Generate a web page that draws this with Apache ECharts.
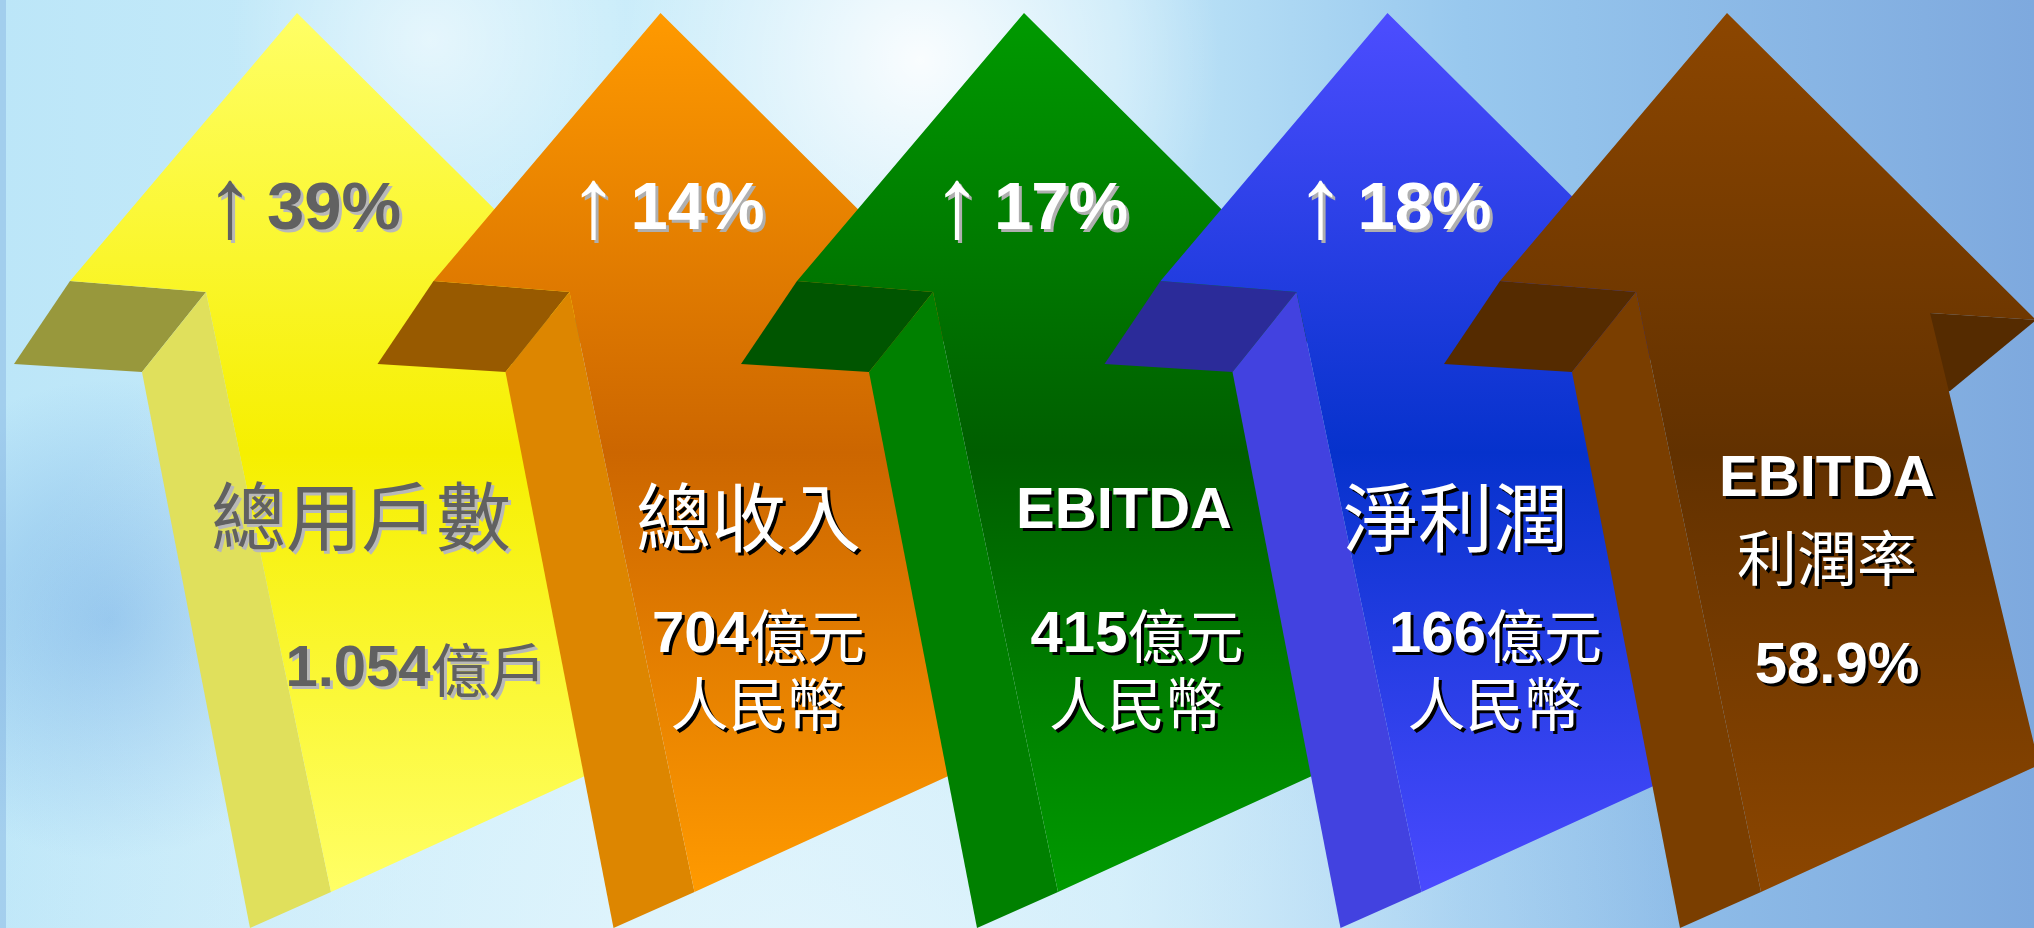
<!DOCTYPE html>
<html>
<head>
<meta charset="utf-8">
<script src="https://cdn.jsdelivr.net/npm/echarts@6/dist/echarts.min.js"></script>
<style>
html,body{margin:0;padding:0;background:#c8eaf8;}
#chart{width:2034px;height:928px;}
</style>
</head>
<body>
<div id="chart"></div>
<script>
// ---------------- data ----------------
const categories = ['總用戶數', '總收入', 'EBITDA', '淨利潤', 'EBITDA利潤率'];
const labelText = ['總用戶數', '總收入', 'EBITDA', '淨利潤', 'EBITDA\n利潤率'];
const growthPct = [39, 14, 17, 18, null];
const amounts = [1.054, 704, 415, 166, 58.9];
const amountUnit = ['億戶', '億元', '億元', '億元', '%'];
const amountNote = ['', '人民幣', '人民幣', '人民幣', ''];

// ---------------- styles / layout ----------------
const LATIN = '"Liberation Sans", Arial, sans-serif';
const CJK = '"Noto Sans CJK TC", "Noto Sans CJK SC", sans-serif';

const palette = [
  { front: ['#FFFF66', '#F6EF00', '#FFFF66'], side: '#E0E05C', under: '#98983C', ink: '#616161', shade: '#B8B8B8', pctShade: '#B8B8B8' },
  { front: ['#FF9A00', '#CC6600', '#FF9A00'], side: '#DD8600', under: '#985A00', ink: '#FFFFFF', shade: '#000000', pctShade: '#AFAFAF' },
  { front: ['#009A00', '#005E00', '#009A00'], side: '#008000', under: '#005500', ink: '#FFFFFF', shade: '#000000', pctShade: '#AFAFAF' },
  { front: ['#4D4DFF', '#0632CC', '#4A4AFF'], side: '#4242E0', under: '#2B2B99', ink: '#FFFFFF', shade: '#000000', pctShade: '#AFAFAF' },
  { front: ['#8C4600', '#623100', '#8C4600'], side: '#7A3E00', under: '#552B00', ink: '#FFFFFF', shade: '#000000', pctShade: '#AFAFAF' }
];
// text placement relative to arrow tip (px at native band width)
const textLayout = [
  { labelDx: 64, labelDy: [503], valueDx: 119, valueDy: [657] },
  { labelDx: 88, labelDy: [504], valueDx: 98, valueDy: [623, 691] },
  { labelDx: 100, labelDy: [499], valueDx: 113, valueDy: [623, 691] },
  { labelDx: 68, labelDy: [504], valueDx: 108, valueDy: [623, 691] },
  { labelDx: 100, labelDy: [467, 545], valueDx: 110, valueDy: [654] }
];
const tipShift = [0, 0, 0, 0, -24];
const BAND = 363.5;

// arrow template relative to tip
const FRONT = [[0,0],[309,307],[203,300],[312,752],[34,879],[-91,279],[-227,268]];
const LEFT_UNDER = [[-227,268],[-91,279],[-155,359],[-283,351]];
const SIDE = [[-91,279],[-155,359],[-47,915],[34,879]];
const RIGHT_UNDER = [[203,300],[309,307],[223,378],[190,386],[190,300]];

function isLatin(s) { return /^[A-Za-z0-9.%\s]+$/.test(s); }

function renderItem(params, api) {
  const i = api.value(0);
  const tip = api.coord([i, 1]);
  const s = api.size([1, 0])[0] / BAND;
  const tx = tip[0] + tipShift[i] * s, ty = tip[1];
  const P = pts => pts.map(p => [tx + p[0] * s, ty + p[1] * s]);
  const pal = palette[i], lay = textLayout[i];
  const children = [];
  children.push({ type: 'polygon', shape: { points: P(RIGHT_UNDER) }, style: { fill: pal.under } });
  children.push({ type: 'polygon', shape: { points: P(LEFT_UNDER) }, style: { fill: pal.under } });
  children.push({ type: 'polygon', shape: { points: P(SIDE) }, style: { fill: pal.side } });
  children.push({ type: 'polygon', shape: { points: P(FRONT) }, style: {
    fill: { type: 'linear', x: 0, y: 0, x2: 0, y2: 1, colorStops: [
      { offset: 0, color: pal.front[0] }, { offset: 0.5, color: pal.front[1] }, { offset: 1, color: pal.front[2] }] }
  } });
  const shadow = (c) => ({ textShadowColor: c, textShadowOffsetX: 3 * s, textShadowOffsetY: 3 * s, textShadowBlur: 0.01 });

  // growth percentage
  if (growthPct[i] != null) {
    children.push({ type: 'text', x: tx - 67 * s, y: ty + 196 * s, style: Object.assign({
      text: '↑', font: Math.round(100 * s) + 'px ' + LATIN, fill: pal.ink, align: 'center', verticalAlign: 'middle'
    }, shadow(pal.pctShade)) });
    children.push({ type: 'text', x: tx + 37 * s, y: ty + 198 * s, style: Object.assign({
      text: growthPct[i] + '%', font: 'bold ' + Math.round(67 * s) + 'px ' + LATIN, fill: pal.ink, align: 'center', verticalAlign: 'middle'
    }, shadow(pal.pctShade)) });
  }
  // category label
  const lines = labelText[i].split('\n');
  lines.forEach((ln, k) => {
    const latin = isLatin(ln);
    const size = latin ? 58 : (lines.length > 1 ? 60 : 75);
    children.push({ type: 'text', x: tx + lay.labelDx * s, y: ty + lay.labelDy[k] * s, style: Object.assign({
      text: ln, font: (latin ? 'bold ' : '') + Math.round(size * s) + 'px ' + (latin ? LATIN : CJK),
      fill: pal.ink, align: 'center', verticalAlign: 'middle'
    }, shadow(pal.shade)) });
  });
  // amount
  const unit = amountUnit[i];
  const numStyle = Object.assign({ font: 'bold ' + Math.round(58 * s) + 'px ' + LATIN, fill: pal.ink }, shadow(pal.shade));
  const unitStyle = Object.assign({ font: Math.round(58 * s) + 'px ' + CJK, fill: pal.ink }, shadow(pal.shade));
  const line1 = isLatin(unit) ? '{n|' + amounts[i] + unit + '}' : '{n|' + amounts[i] + '}{u|' + unit + '}';
  children.push({ type: 'text', x: tx + lay.valueDx * s, y: ty + lay.valueDy[0] * s, style: Object.assign({
    text: line1, rich: { n: numStyle, u: unitStyle }, fill: pal.ink, align: 'center', verticalAlign: 'middle'
  }, shadow(pal.shade)) });
  if (amountNote[i]) {
    children.push({ type: 'text', x: tx + (lay.valueDx - 1) * s, y: ty + lay.valueDy[1] * s, style: Object.assign({
      text: amountNote[i], font: Math.round(58 * s) + 'px ' + CJK, fill: pal.ink, align: 'center', verticalAlign: 'middle'
    }, shadow(pal.shade)) });
  }
  return { type: 'group', children: children };
}

const W = 2034, H = 928;
const chart = echarts.init(document.getElementById('chart'), null, { renderer: 'canvas' });
chart.setOption({
  animation: false,
  backgroundColor: '#c8eaf8',
  grid: { left: 115.25, right: 101.25, top: 13, bottom: 0 },
  xAxis: { type: 'category', data: categories, show: false },
  yAxis: { type: 'value', min: 0, max: 1, show: false },
  graphic: { elements: [
    { type: 'rect', silent: true, z: -10, shape: { x: 0, y: 0, width: W, height: H }, style: {
      fill: { type: 'linear', x: 0, y: 0, x2: 1, y2: 0, colorStops: [
        { offset: 0, color: '#BCE6F8' }, { offset: 0.3, color: '#CBEDFA' }, { offset: 0.55, color: '#C0E6F8' },
        { offset: 0.72, color: '#98C8EE' }, { offset: 1, color: '#7EA9DE' }] } } },
    { type: 'circle', silent: true, z: -9, shape: { cx: 110, cy: 620, r: 240 }, style: {
      fill: { type: 'radial', x: 0.5, y: 0.5, r: 0.5, colorStops: [
        { offset: 0, color: 'rgba(118,176,230,0.65)' }, { offset: 1, color: 'rgba(118,176,230,0)' }] } } },
    { type: 'circle', silent: true, z: -9, shape: { cx: 920, cy: 60, r: 300 }, style: {
      fill: { type: 'radial', x: 0.5, y: 0.5, r: 0.5, colorStops: [
        { offset: 0, color: 'rgba(255,255,255,0.9)' }, { offset: 1, color: 'rgba(255,255,255,0)' }] } } },
    { type: 'circle', silent: true, z: -9, shape: { cx: 430, cy: 40, r: 200 }, style: {
      fill: { type: 'radial', x: 0.5, y: 0.5, r: 0.5, colorStops: [
        { offset: 0, color: 'rgba(255,255,255,0.55)' }, { offset: 1, color: 'rgba(255,255,255,0)' }] } } },
    { type: 'circle', silent: true, z: -9, shape: { cx: 800, cy: 1000, r: 900 }, style: {
      fill: { type: 'radial', x: 0.5, y: 0.5, r: 0.5, colorStops: [
        { offset: 0, color: 'rgba(232,247,253,0.8)' }, { offset: 0.6, color: 'rgba(232,247,253,0.35)' }, { offset: 1, color: 'rgba(232,247,253,0)' }] } } },
    { type: 'rect', silent: true, z: -8, shape: { x: 0, y: 0, width: 6, height: H }, style: { fill: 'rgba(130,178,225,0.45)' } }
  ] },
  series: [{
    type: 'custom',
    coordinateSystem: 'cartesian2d',
    renderItem: renderItem,
    clip: false,
    encode: { x: 0, y: 1 },
    data: categories.map((c, i) => [i, 1])
  }]
});
</script>
</body>
</html>
